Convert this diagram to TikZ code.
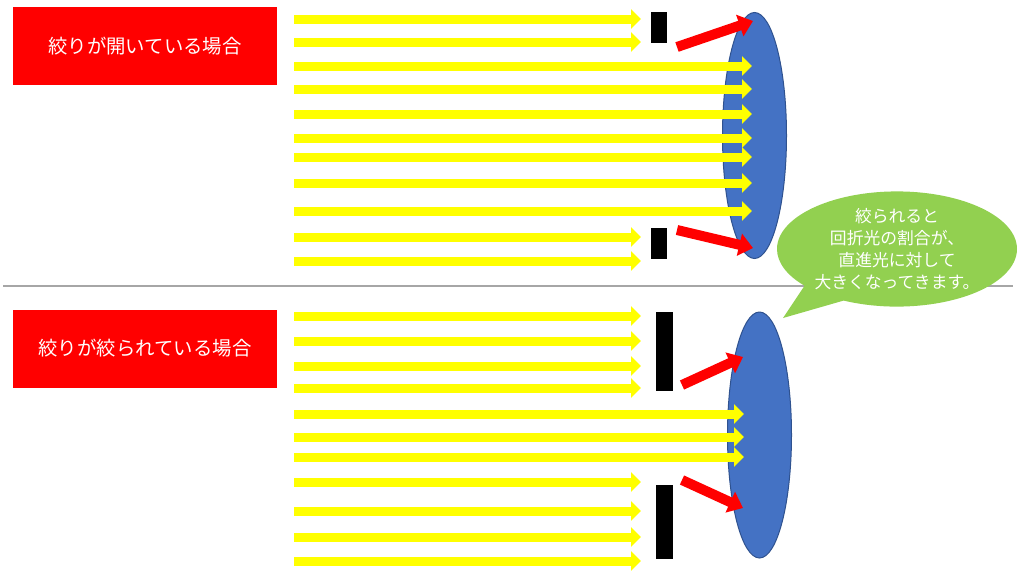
\documentclass[tikz,border=0pt]{standalone}
\usepackage{fontspec}
\newfontfamily\jpfont{Noto Sans CJK JP}
\usetikzlibrary{arrows.meta,shapes.geometric,shapes.callouts}
\tikzset{>=latex}
\definecolor{raycol}{HTML}{FFFF00}
\definecolor{lenscol}{HTML}{4472C4}
\definecolor{lensedge}{HTML}{2F528F}
\definecolor{notecol}{HTML}{92D050}
\definecolor{sepcol}{HTML}{A6A6A6}
\colorlet{difcol}{red}
\tikzset{
  ray/.style={draw=raycol, line width=4.5pt, -{Triangle[length=5pt,width=9.5pt]}},
  difray/.style={draw=difcol, line width=5pt, -{Triangle[length=7pt,width=11pt]}},
  lens/.style={ellipse, fill=lenscol, draw=lensedge, line width=0.5pt,
    inner sep=0pt, minimum width=32pt, minimum height=123pt},
  titlebox/.style={fill=red, text=white, inner sep=0pt, minimum width=132pt,
    minimum height=39pt, font=\jpfont\fontsize{9.7pt}{11pt}\selectfont},
}

\begin{document}
\begin{tikzpicture}[x=0.5pt,y=-0.5pt]
  \useasboundingbox (0,0) rectangle (1024,575);
  \def\xs{294}
  \def\xa{641}

  % OPEN APERTURE
  \node[titlebox] (open) at (145,46) {絞りが開いている場合};
  \node[lens] (lensA) at (754.5,135.5) {};
  \fill (651,12)  rectangle (667,43);
  \fill (651,228) rectangle (667,259);
  \foreach \y in {19,42,237,261}
    \draw[ray] (\xs,\y) -- (\xa,\y);
  \foreach \y in {66,89,114,138,157,183,211}
    \draw[ray] (\xs,\y) -- (752,\y);
  \draw[difray] (677,47)  -- (753,21);
  \draw[difray] (677,230) -- (753,248);

  \draw[sepcol,line width=0.6pt] (3,286) -- (1013,286);

  % CLOSED APERTURE
  \node[titlebox] (closed) at (145,348.5) {絞りが絞られている場合};
  \node[lens] (lensB) at (759.5,435) {};
  \fill (656,312) rectangle (673,391);
  \fill (656,485) rectangle (673,559);
  \foreach \y in {316,341,366,388,482,511,537,561}
    \draw[ray] (\xs,\y) -- (\xa,\y);
  \foreach \y in {414,437,457}
    \draw[ray] (\xs,\y) -- (744,\y);
  \draw[difray] (682,385) -- (743,357);
  \draw[difray] (682,480) -- (743,508);

  % NOTE
  \coordinate (tip) at (783,318);
  \node[ellipse callout, fill=notecol, text=white, inner sep=0pt,
        minimum width=120pt, minimum height=54pt,
        callout absolute pointer=(tip), callout pointer arc=24,
        align=center, font=\jpfont\fontsize{8.4pt}{11pt}\selectfont]
    (note) at (897,249)
    {絞られると\\回折光の割合が、\\直進光に対して\\大きくなってきます。};
\end{tikzpicture}
\end{document}
